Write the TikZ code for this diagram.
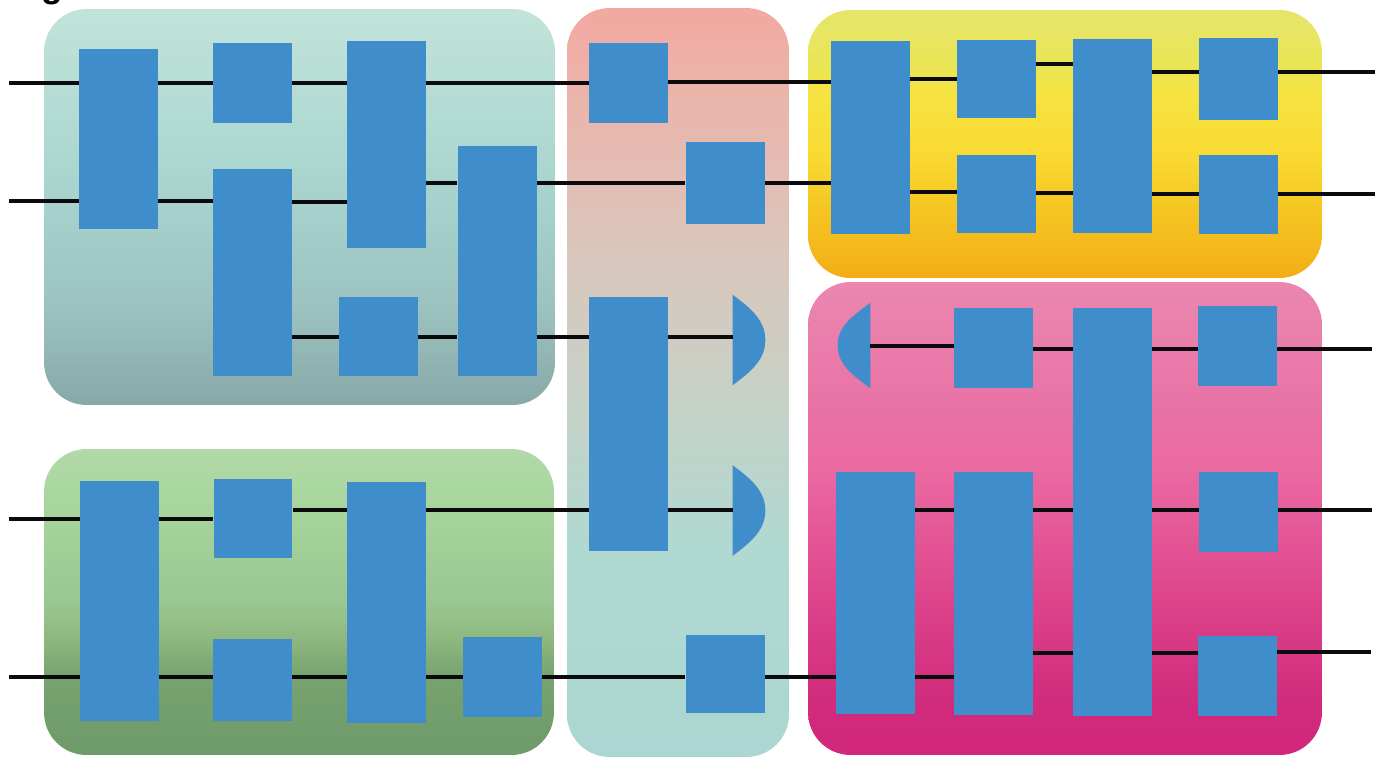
\documentclass[tikz,border=0pt]{standalone}
\usepackage{fontspec}
\setmainfont{Liberation Sans}
\usepackage{tikz}
\usepackage{xcolor}
\definecolor{gateblue}{RGB}{63,141,203}
\definecolor{wireblack}{RGB}{12,10,12}
% the visible part of a shading runs from 25bp (bottom) to 75bp (top)
\pgfdeclareverticalshading{tealshade}{100bp}{
  rgb(0bp)=(0.53,0.66,0.66); rgb(25bp)=(0.53,0.66,0.66); rgb(37bp)=(0.61,0.76,0.75);
  rgb(50bp)=(0.65,0.82,0.80); rgb(62bp)=(0.70,0.86,0.83); rgb(75bp)=(0.76,0.89,0.85); rgb(100bp)=(0.76,0.89,0.85)}
\pgfdeclareverticalshading{midshade}{100bp}{
  rgb(0bp)=(0.67,0.84,0.82); rgb(25bp)=(0.67,0.84,0.82); rgb(39bp)=(0.69,0.85,0.82);
  rgb(49bp)=(0.78,0.82,0.78); rgb(58bp)=(0.85,0.78,0.74); rgb(69bp)=(0.92,0.71,0.67);
  rgb(75bp)=(0.95,0.66,0.63); rgb(100bp)=(0.95,0.66,0.63)}
\pgfdeclareverticalshading{yellowshade}{100bp}{
  rgb(0bp)=(0.95,0.68,0.09); rgb(25bp)=(0.95,0.68,0.09); rgb(37bp)=(0.96,0.77,0.13);
  rgb(49bp)=(0.98,0.86,0.20); rgb(60bp)=(0.96,0.89,0.26); rgb(64bp)=(0.92,0.90,0.33);
  rgb(75bp)=(0.90,0.90,0.42); rgb(100bp)=(0.90,0.90,0.42)}
\pgfdeclareverticalshading{pinkshade}{100bp}{
  rgb(0bp)=(0.82,0.15,0.49); rgb(25bp)=(0.82,0.15,0.49); rgb(31bp)=(0.82,0.17,0.49);
  rgb(42bp)=(0.87,0.27,0.55); rgb(55bp)=(0.92,0.41,0.63); rgb(62bp)=(0.91,0.45,0.65);
  rgb(75bp)=(0.92,0.53,0.69); rgb(100bp)=(0.92,0.53,0.69)}
\pgfdeclareverticalshading{greenshade}{100bp}{
  rgb(0bp)=(0.43,0.61,0.41); rgb(25bp)=(0.43,0.61,0.41); rgb(28bp)=(0.44,0.61,0.42);
  rgb(38bp)=(0.47,0.64,0.44); rgb(44bp)=(0.56,0.72,0.50); rgb(50bp)=(0.60,0.78,0.57);
  rgb(67bp)=(0.66,0.84,0.62); rgb(75bp)=(0.70,0.85,0.66); rgb(100bp)=(0.70,0.85,0.66)}
\newcommand{\wire}[3]{\draw[wire] (#1.east |- 0,#3) -- (#2.west |- 0,#3);}
\begin{document}
\begin{tikzpicture}[
    x=0.02cm, y=-0.02cm,
    block/.style={rounded corners=0.85cm, inner sep=0pt, minimum width=10.28cm},
    gate/.style={fill=gateblue, inner sep=0pt, minimum width=1.58cm},
    det/.style={inner sep=0pt, minimum width=0.64cm, minimum height=1.8cm},
    wire/.style={draw=wireblack, line width=0.08cm},
    lbl/.style={font=\bfseries\fontsize{20}{24}\selectfont, inner sep=0pt, anchor=base}
]
\useasboundingbox (0,0) rectangle (1388,758);
\node[lbl] (fragment) at (52,-2.5) {g};
% backgrounds
\node[block, shading=tealshade, minimum width=10.22cm, minimum height=7.92cm] (teal) at (299.5,207) {};
\node[block, shading=greenshade, minimum width=10.2cm, minimum height=6.12cm] (green) at (299,602) {};
\node[block, shading=midshade, minimum width=4.44cm, minimum height=14.98cm] (mid) at (678,382.5) {};
\node[block, shading=yellowshade, minimum height=5.36cm] (yellow) at (1065,144) {};
\node[block, shading=pinkshade, minimum height=9.46cm] (pink) at (1065,518.5) {};
% gates
\node[gate, minimum height=3.6cm] (a1) at (118.5,139) {};
\node[gate, minimum height=1.6cm] (a2) at (252.5,83) {};
\node[gate, minimum height=4.14cm] (a3) at (252.5,272.5) {};
\node[gate, minimum height=4.14cm] (a4) at (386.5,144.5) {};
\node[gate, minimum height=1.58cm] (a5) at (378.5,336.5) {};
\node[gate, minimum height=4.6cm] (a6) at (497,261) {};
\node[gate, minimum height=4.8cm] (g1) at (119.5,601) {};
\node[gate, minimum height=1.58cm] (g2) at (253,518.5) {};
\node[gate, minimum height=1.64cm] (g3) at (252.5,680) {};
\node[gate, minimum height=4.82cm] (g4) at (386.5,602.5) {};
\node[gate, minimum height=1.6cm] (g5) at (502.5,677) {};
\node[gate, minimum height=1.6cm] (m1) at (628.5,83) {};
\node[gate, minimum height=1.64cm] (m2) at (725,183) {};
\node[gate, minimum height=5.08cm] (m3) at (628.5,424) {};
\node[gate, minimum height=1.56cm] (m4) at (725,674) {};
\node[gate, minimum height=3.86cm] (y1) at (870.5,137.5) {};
\node[gate, minimum height=1.56cm] (y2) at (996.5,79) {};
\node[gate, minimum height=1.56cm] (y3) at (996.5,194) {};
\node[gate, minimum height=3.88cm] (y4) at (1112.5,136) {};
\node[gate, minimum height=1.64cm] (y5) at (1238.5,79) {};
\node[gate, minimum height=1.58cm] (y6) at (1238.5,194.5) {};
\node[gate, minimum height=1.6cm] (p1) at (993.5,348) {};
\node[gate, minimum height=8.16cm] (p2) at (1112.5,512) {};
\node[gate, minimum height=1.6cm] (p3) at (1237.5,346) {};
\node[gate, minimum height=4.84cm] (p4) at (875.5,593) {};
\node[gate, minimum height=4.86cm] (p5) at (993.5,593.5) {};
\node[gate, minimum height=1.6cm] (p6) at (1238.5,512) {};
\node[gate, minimum height=1.6cm] (p7) at (1237.5,676) {};
% detectors
\node[det] (d1) at (749,340) {};
\node[det] (d2) at (749,510.5) {};
\node[det, minimum height=1.7cm] (d3) at (854,345.5) {};
\fill[gateblue] (d1.north west) .. controls +(14,11) and +(0,-22) .. (d1.east) .. controls +(0,22) and +(14,-11) .. (d1.south west) -- cycle;
\fill[gateblue] (d2.north west) .. controls +(14,11) and +(0,-22) .. (d2.east) .. controls +(0,22) and +(14,-11) .. (d2.south west) -- cycle;
\fill[gateblue] (d3.north east) .. controls +(-14,11) and +(0,-21) .. (d3.west) .. controls +(0,21) and +(-14,-11) .. (d3.south east) -- cycle;
% free wire ends
\coordinate (in1) at (9,83);
\coordinate (in2) at (9,201);
\coordinate (in3) at (9,519);
\coordinate (in4) at (9,677);
\coordinate (out1) at (1375,72);
\coordinate (out2) at (1375,194);
\coordinate (out3) at (1372,349);
\coordinate (out4) at (1372,510);
\coordinate (out5) at (1371,652);
% wires
\draw[wire] (in1) -- (a1.west |- in1);
\draw[wire] (in2) -- (a1.west |- in2);
\draw[wire] (in3) -- (g1.west |- in3);
\draw[wire] (in4) -- (g1.west |- in4);
\wire{a1}{a2}{83} \wire{a2}{a4}{83} \wire{a4}{m1}{83} \wire{m1}{y1}{82}
\wire{a1}{a3}{201} \wire{a3}{a4}{202} \wire{a4}{a6}{183} \wire{a6}{m2}{183} \wire{m2}{y1}{183}
\wire{a3}{a5}{337} \wire{a5}{a6}{337} \wire{a6}{m3}{337} \wire{m3}{d1}{337}
\wire{g1}{g2}{519} \wire{g2}{g4}{510} \wire{g4}{m3}{510} \wire{m3}{d2}{510}
\wire{g1}{g3}{677} \wire{g3}{g4}{677} \wire{g4}{g5}{677} \wire{g5}{m4}{677} \wire{m4}{p4}{677}
\wire{y1}{y2}{79} \wire{y2}{y4}{64} \wire{y4}{y5}{72}
\wire{y1}{y3}{192} \wire{y3}{y4}{193} \wire{y4}{y6}{194}
\wire{d3}{p1}{346} \wire{p1}{p2}{349} \wire{p2}{p3}{349}
\wire{p4}{p5}{510} \wire{p5}{p2}{510} \wire{p2}{p6}{510}
\wire{p4}{p5}{677} \wire{p5}{p2}{653} \wire{p2}{p7}{653}
\draw[wire] (y5.east |- out1) -- (out1);
\draw[wire] (y6.east |- out2) -- (out2);
\draw[wire] (p3.east |- out3) -- (out3);
\draw[wire] (p6.east |- out4) -- (out4);
\draw[wire] (p7.east |- out5) -- (out5);
\end{tikzpicture}
\end{document}
